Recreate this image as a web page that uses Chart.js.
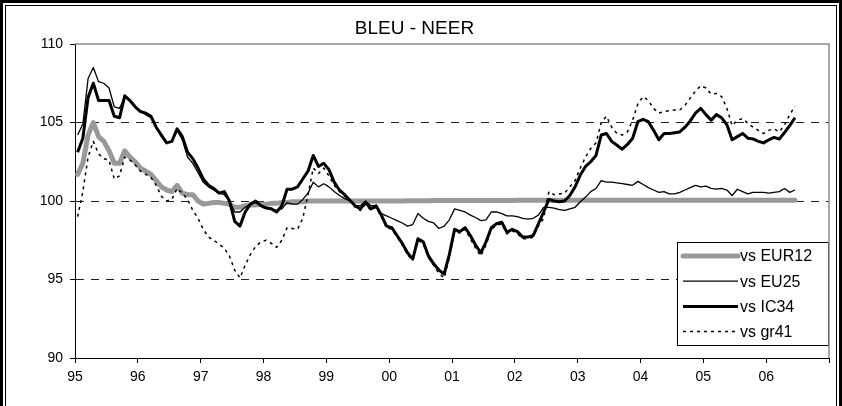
<!DOCTYPE html>
<html>
<head>
<meta charset="utf-8">
<script src="https://cdn.jsdelivr.net/npm/chart.js@4.4.1/dist/chart.umd.min.js"></script>
<style>
html,body{margin:0;padding:0;background:#ffffff;}
#wrap{width:842px;height:406px;position:relative;overflow:hidden;}
canvas{display:block;}
</style>
</head>
<body>
<div id="wrap"><canvas id="c" width="842" height="406"></canvas></div>
<script>
// ---- Data (monthly, Jan 1995 .. Jun 2006) ----
const chartTitle = 'BLEU - NEER';
const yearLabels = ['95','96','97','98','99','00','01','02','03','04','05','06'];
const yTickValues = [90, 95, 100, 105, 110];
const seriesNames = ['vs EUR12', 'vs EU25', 'vs IC34', 'vs gr41'];

const eur12 = [
  101.7,102.4,104.2,105.0,104.1,103.8,103.2,102.4,102.4,103.2,102.8,102.5,
  102.1,101.9,101.7,101.3,100.9,100.7,100.6,101.0,100.5,100.4,100.4,100.0,
  99.8,99.85,99.9,99.9,99.85,99.8,99.6,99.6,99.7,99.75,99.75,99.8,
  99.8,99.85,99.85,99.9,99.9,99.95,99.95,99.95,100.0,100.0,100.0,100.0,
  100.0,100.0,100.0,100.0,100.0,100.0,100.0,100.0,100.0,100.0,100.0,100.0,
  100.0,100.0,100.0,100.02,100.02,100.02,100.02,100.02,100.03,100.03,100.03,100.03,
  100.03,100.03,100.03,100.03,100.03,100.03,100.03,100.03,100.03,100.03,100.03,100.03,
  100.04,100.04,100.04,100.04,100.04,100.04,100.04,100.04,100.04,100.04,100.04,100.04,
  100.05,100.05,100.05,100.05,100.05,100.05,100.05,100.05,100.05,100.05,100.05,100.05,
  100.05,100.05,100.05,100.05,100.05,100.05,100.05,100.05,100.05,100.05,100.05,100.05,
  100.05,100.05,100.05,100.05,100.05,100.05,100.05,100.05,100.05,100.05,100.05,100.05,
  100.05,100.05,100.05,100.05,100.05,100.05
];

const eu25 = [
  104.2,104.9,107.8,108.5,107.6,107.5,107.2,106.0,105.9,106.6,106.4,106.0,
  105.7,105.5,105.3,104.7,104.1,103.7,103.8,104.5,103.9,102.8,102.4,101.8,
  101.2,100.9,100.7,100.5,100.4,100.0,99.3,99.3,99.6,99.8,99.9,99.7,
  99.6,99.5,99.4,99.5,99.9,99.8,99.8,100.1,100.5,101.2,100.9,101.1,
  100.9,100.6,100.35,100.15,100.0,99.7,99.7,100.0,99.7,99.7,99.2,99.05,
  98.9,98.75,98.6,98.4,98.5,99.2,98.9,98.7,98.6,98.25,98.4,98.8,
  99.5,99.4,99.3,99.1,98.95,98.75,98.8,99.3,99.3,99.2,99.05,99.05,
  99.0,98.9,98.85,98.9,99.1,99.6,99.6,99.55,99.45,99.4,99.5,99.6,
  99.95,100.25,100.6,100.8,101.3,101.2,101.2,101.15,101.1,101.05,101.0,101.25,
  101.05,100.85,100.7,100.55,100.6,100.45,100.45,100.55,100.7,100.85,101.0,100.9,
  100.95,100.8,100.75,100.8,100.7,100.35,100.75,100.6,100.45,100.55,100.55,100.55,
  100.5,100.55,100.6,100.8,100.55,100.7
];

const ic34 = [
  103.1,104.0,106.6,107.5,106.4,106.4,106.4,105.4,105.3,106.7,106.4,106.0,
  105.7,105.6,105.4,104.7,104.2,103.7,103.8,104.6,104.1,103.1,102.7,102.1,
  101.4,101.0,100.8,100.5,100.6,100.0,98.7,98.4,99.3,99.8,100.0,99.7,
  99.55,99.5,99.3,99.7,100.75,100.75,100.9,101.4,101.9,102.9,102.2,102.4,
  102.0,101.2,100.7,100.4,100.05,99.7,99.5,99.9,99.5,99.7,99.1,98.4,
  98.3,97.8,97.3,96.7,96.3,97.6,97.4,96.5,96.0,95.6,95.35,96.6,
  98.2,98.05,98.3,97.8,97.2,96.7,97.4,98.3,98.55,98.65,98.0,98.2,
  98.05,97.7,97.7,97.8,98.55,99.3,100.1,100.0,99.95,100.0,100.35,100.9,
  101.65,102.2,102.5,102.9,104.2,104.3,103.8,103.55,103.3,103.6,104.0,105.05,
  105.2,105.05,104.5,103.9,104.3,104.3,104.35,104.4,104.7,105.1,105.6,105.9,
  105.5,105.15,105.5,105.3,104.85,103.9,104.1,104.3,104.0,103.95,103.8,103.7,
  103.9,104.05,103.95,104.35,104.8,105.3
];

const gr41 = [
  99.0,100.6,102.8,103.8,103.0,102.7,102.6,101.4,101.6,102.8,102.6,102.3,
  101.9,101.7,101.5,101.0,100.3,100.0,100.1,100.8,100.5,100.1,99.4,98.9,
  98.2,97.7,97.5,97.25,97.0,96.5,95.6,95.1,95.9,96.6,97.1,97.4,
  97.5,97.3,97.05,97.5,98.3,98.25,98.2,98.9,100.4,102.1,101.75,102.1,
  101.6,101.0,100.6,100.3,100.0,99.6,99.4,99.8,99.4,99.6,99.0,98.3,
  98.2,97.7,97.2,96.6,96.2,97.5,97.3,96.4,95.9,95.4,95.1,96.4,
  98.1,97.95,98.2,97.6,97.0,96.5,97.2,98.2,98.45,98.55,97.9,98.1,
  97.9,97.6,97.6,97.7,98.4,98.9,100.6,100.4,100.45,100.5,100.9,101.3,
  102.1,102.8,103.35,103.7,105.0,105.4,104.7,104.3,104.2,104.4,105.15,106.2,
  106.65,106.4,105.9,105.6,105.7,105.75,105.8,105.8,106.1,106.55,107.0,107.35,
  107.2,106.8,106.85,106.65,105.9,104.8,105.15,105.25,104.95,104.7,104.5,104.3,
  104.5,104.6,104.4,104.85,105.5,106.05
];

// ---- Build chart ----
const FONT = "'Liberation Sans', Arial, sans-serif";
const toPts = arr => arr.map((v, i) => ({ x: i, y: v }));
const yearTickPositions = [];
for (let k = 0; k <= yearLabels.length; k++) yearTickPositions.push(k * 12 - 0.5);

const frame = {
  id: 'frame',
  beforeDraw(chart) {
    const ctx = chart.ctx;
    ctx.save();
    ctx.fillStyle = '#ffffff';
    ctx.fillRect(0, 0, chart.width, chart.height);
    ctx.restore();
  },
  afterDraw(chart) {
    const ctx = chart.ctx;
    const W = chart.width, H = chart.height;
    const a = chart.chartArea;
    ctx.save();
    // gray plot border on top & right
    ctx.strokeStyle = '#8c8c8c';
    ctx.lineWidth = 1.5;
    ctx.beginPath();
    ctx.moveTo(a.left, a.top);
    ctx.lineTo(a.right, a.top);
    ctx.lineTo(a.right, a.bottom);
    ctx.stroke();
    // outer double frame
    ctx.fillStyle = '#000';
    ctx.fillRect(0, 0, W, 3);
    ctx.fillRect(0, 0, 3, H);
    ctx.fillRect(W - 3, 0, 3, H);
    ctx.fillRect(5, 5, W - 10, 1);
    ctx.fillRect(5, 5, 1, H - 5);
    ctx.fillRect(W - 6, 5, 1, H - 5);
    ctx.restore();
  }
};

const customLegend = {
  id: 'customLegend',
  afterDatasetsDraw(chart) {
    const ctx = chart.ctx;
    const a = chart.chartArea;
    const bx = a.right - 152, by = 242, bw = 151, bh = 103;
    ctx.save();
    ctx.fillStyle = '#ffffff';
    ctx.fillRect(bx, by, bw, bh);
    ctx.strokeStyle = '#000';
    ctx.lineWidth = 1;
    ctx.strokeRect(bx + 0.5, by + 0.5, bw, bh);
    ctx.font = '16px ' + FONT;
    ctx.textBaseline = 'middle';
    ctx.fillStyle = '#000';
    chart.data.datasets.forEach((ds, i) => {
      const y = by + 14 + i * 25.2;
      ctx.save();
      ctx.strokeStyle = ds.borderColor;
      ctx.lineWidth = ds.borderWidth;
      ctx.setLineDash(ds.borderDash || []);
      ctx.lineCap = ds.legendCap || 'butt';
      ctx.beginPath();
      ctx.moveTo(bx + 6, y);
      ctx.lineTo(bx + 61, y);
      ctx.stroke();
      ctx.restore();
      ctx.fillText(ds.label, bx + 63, y + 1);
    });
    ctx.restore();
  }
};

new Chart(document.getElementById('c'), {
  type: 'line',
  data: {
    datasets: [
      { label: seriesNames[0], data: toPts(eur12), borderColor: '#999999', borderWidth: 5, order: 4, legendCap: 'round', borderCapStyle: 'round' },
      { label: seriesNames[1], data: toPts(eu25), borderColor: '#000000', borderWidth: 1.3, order: 2 },
      { label: seriesNames[2], data: toPts(ic34), borderColor: '#000000', borderWidth: 3, order: 1 },
      { label: seriesNames[3], data: toPts(gr41), borderColor: '#000000', borderWidth: 1.5, borderDash: [3, 4], order: 3 }
    ]
  },
  options: {
    responsive: false,
    animation: false,
    devicePixelRatio: 1,
    events: [],
    elements: {
      point: { radius: 0, hoverRadius: 0 },
      line: { tension: 0, fill: false, borderJoinStyle: 'round' }
    },
    layout: { padding: { left: 0, right: 13, top: 0, bottom: 0 } },
    plugins: {
      legend: { display: false },
      tooltip: { enabled: false },
      title: {
        display: true,
        text: chartTitle,
        color: '#000',
        font: { family: FONT, size: 19, weight: 'normal' },
        padding: { top: 17.6, bottom: 3.6 }
      }
    },
    scales: {
      x: {
        type: 'linear',
        min: -0.5,
        max: 143.5,
        afterBuildTicks: s => { s.ticks = yearTickPositions.map(v => ({ value: v })); },
        afterFit: s => { s.height = 48; },
        ticks: {
          autoSkip: false,
          maxRotation: 0,
          color: '#000',
          padding: 6,
          font: { family: FONT, size: 14 },
          callback: (v, i) => (i < yearLabels.length ? yearLabels[i] : '')
        },
        grid: { drawOnChartArea: false, drawTicks: true, tickLength: 5, tickColor: '#000', color: '#000' },
        border: { display: true, color: '#000', width: 1 }
      },
      y: {
        min: 90,
        max: 110,
        afterBuildTicks: s => { s.ticks = yTickValues.map(v => ({ value: v })); },
        afterFit: s => { s.width = 75; },
        ticks: {
          color: '#000',
          padding: 7,
          font: { family: FONT, size: 14 },
          callback: v => String(v)
        },
        grid: {
          drawOnChartArea: true,
          drawTicks: true,
          tickLength: 5,
          tickColor: '#000',
          lineWidth: 1,
          color: c => (c.tick && (c.tick.value === 90 || c.tick.value === 110)) ? 'rgba(0,0,0,0)' : '#222'
        },
        border: { display: true, color: '#000', width: 1, dash: [8, 7] }
      }
    }
  },
  plugins: [frame, customLegend]
});
</script>
</body>
</html>
